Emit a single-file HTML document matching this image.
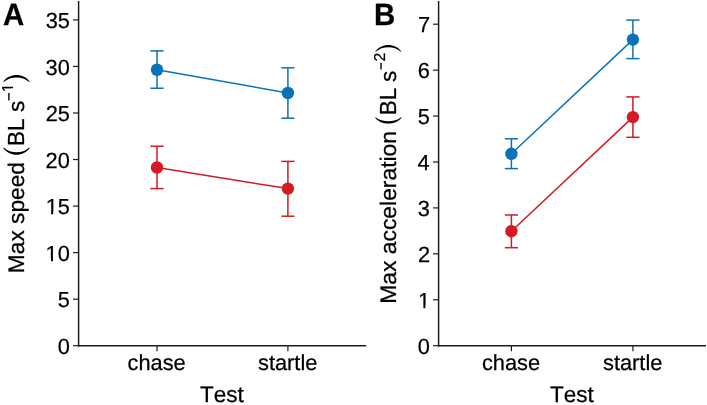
<!DOCTYPE html>
<html><head><meta charset="utf-8"><style>
html,body{margin:0;padding:0;background:#fff;}
body{width:707px;height:405px;overflow:hidden;}
svg{display:block;will-change:transform;}
text{font-family:"Liberation Sans", sans-serif;fill:#000;font-kerning:none;text-rendering:geometricPrecision;stroke:#000;stroke-width:0.25px;}
</style></head><body>
<svg width="707" height="405" viewBox="0 0 707 405">
<defs><clipPath id="c1_21_8" clipPathUnits="userSpaceOnUse"><rect x="-2" y="-26.160" width="65.400" height="23.781"/><rect x="5.432" y="-2.629" width="2.027" height="3.629"/><rect x="11.824" y="-26.160" width="65.400" height="34.880"/></clipPath><clipPath id="c1_15_8" clipPathUnits="userSpaceOnUse"><rect x="-2" y="-18.960" width="47.400" height="17.030"/><rect x="3.923" y="-2.180" width="1.496" height="3.180"/><rect x="8.487" y="-18.960" width="47.400" height="25.280"/></clipPath></defs>
<line x1="78.6" y1="1.0" x2="78.6" y2="346.45" stroke="#1e1e1e" stroke-width="1.5"/>
<line x1="77.85" y1="345.7" x2="366.2" y2="345.7" stroke="#1e1e1e" stroke-width="1.5"/>
<line x1="73.0" y1="345.70" x2="78.6" y2="345.70" stroke="#1e1e1e" stroke-width="1.2"/>
<g transform="translate(57.727,353.800)"><text font-size="21.8">0</text></g>
<line x1="73.0" y1="299.16" x2="78.6" y2="299.16" stroke="#1e1e1e" stroke-width="1.2"/>
<g transform="translate(57.791,307.257)"><text font-size="21.8">5</text></g>
<line x1="73.0" y1="252.61" x2="78.6" y2="252.61" stroke="#1e1e1e" stroke-width="1.2"/>
<g transform="translate(45.603,260.714)"><text font-size="21.8" clip-path="url(#c1_21_8)">10</text></g>
<line x1="73.0" y1="206.07" x2="78.6" y2="206.07" stroke="#1e1e1e" stroke-width="1.2"/>
<g transform="translate(45.667,214.171)"><text font-size="21.8" clip-path="url(#c1_21_8)">15</text></g>
<line x1="73.0" y1="159.53" x2="78.6" y2="159.53" stroke="#1e1e1e" stroke-width="1.2"/>
<g transform="translate(45.603,167.629)"><text font-size="21.8">20</text></g>
<line x1="73.0" y1="112.99" x2="78.6" y2="112.99" stroke="#1e1e1e" stroke-width="1.2"/>
<g transform="translate(45.667,121.086)"><text font-size="21.8">25</text></g>
<line x1="73.0" y1="66.44" x2="78.6" y2="66.44" stroke="#1e1e1e" stroke-width="1.2"/>
<g transform="translate(45.603,74.543)"><text font-size="21.8">30</text></g>
<line x1="73.0" y1="19.90" x2="78.6" y2="19.90" stroke="#1e1e1e" stroke-width="1.2"/>
<g transform="translate(45.667,28.000)"><text font-size="21.8">35</text></g>
<line x1="157.0" y1="345.7" x2="157.0" y2="351.3" stroke="#1e1e1e" stroke-width="1.2"/>
<g transform="translate(127.535,369.600)"><text font-size="21.8">chase</text></g>
<line x1="287.9" y1="345.7" x2="287.9" y2="351.3" stroke="#1e1e1e" stroke-width="1.2"/>
<g transform="translate(257.999,369.600)"><text font-size="21.8">startle</text></g>
<g transform="translate(200.050,402.200)"><text font-size="22.5">Test</text></g>
<line x1="438.6" y1="1.0" x2="438.6" y2="346.45" stroke="#1e1e1e" stroke-width="1.5"/>
<line x1="437.85" y1="345.7" x2="706.0" y2="345.7" stroke="#1e1e1e" stroke-width="1.5"/>
<line x1="433.0" y1="345.70" x2="438.6" y2="345.70" stroke="#1e1e1e" stroke-width="1.2"/>
<g transform="translate(417.727,353.800)"><text font-size="21.8">0</text></g>
<line x1="433.0" y1="299.77" x2="438.6" y2="299.77" stroke="#1e1e1e" stroke-width="1.2"/>
<g transform="translate(417.940,307.871)"><text font-size="21.8" clip-path="url(#c1_21_8)">1</text></g>
<line x1="433.0" y1="253.84" x2="438.6" y2="253.84" stroke="#1e1e1e" stroke-width="1.2"/>
<g transform="translate(417.972,261.943)"><text font-size="21.8">2</text></g>
<line x1="433.0" y1="207.91" x2="438.6" y2="207.91" stroke="#1e1e1e" stroke-width="1.2"/>
<g transform="translate(417.834,216.014)"><text font-size="21.8">3</text></g>
<line x1="433.0" y1="161.99" x2="438.6" y2="161.99" stroke="#1e1e1e" stroke-width="1.2"/>
<g transform="translate(417.515,170.086)"><text font-size="21.8">4</text></g>
<line x1="433.0" y1="116.06" x2="438.6" y2="116.06" stroke="#1e1e1e" stroke-width="1.2"/>
<g transform="translate(417.791,124.157)"><text font-size="21.8">5</text></g>
<line x1="433.0" y1="70.13" x2="438.6" y2="70.13" stroke="#1e1e1e" stroke-width="1.2"/>
<g transform="translate(417.834,78.229)"><text font-size="21.8">6</text></g>
<line x1="433.0" y1="24.20" x2="438.6" y2="24.20" stroke="#1e1e1e" stroke-width="1.2"/>
<g transform="translate(417.972,32.300)"><text font-size="21.8">7</text></g>
<line x1="511.4" y1="345.7" x2="511.4" y2="351.3" stroke="#1e1e1e" stroke-width="1.2"/>
<g transform="translate(481.935,369.600)"><text font-size="21.8">chase</text></g>
<line x1="632.9" y1="345.7" x2="632.9" y2="351.3" stroke="#1e1e1e" stroke-width="1.2"/>
<g transform="translate(602.999,369.600)"><text font-size="21.8">startle</text></g>
<g transform="translate(549.950,402.200)"><text font-size="22.5">Test</text></g>
<line x1="157.0" y1="69.75" x2="287.9" y2="93.00" stroke="#0b72b9" stroke-width="1.5"/>
<line x1="157.0" y1="167.50" x2="287.9" y2="188.60" stroke="#d41a24" stroke-width="1.5"/>
<line x1="511.4" y1="153.80" x2="632.9" y2="39.60" stroke="#0b72b9" stroke-width="1.5"/>
<line x1="511.4" y1="231.20" x2="632.9" y2="117.10" stroke="#d41a24" stroke-width="1.5"/>
<line x1="157.0" y1="50.90" x2="157.0" y2="88.25" stroke="#0b72b9" stroke-width="1.5"/>
<line x1="150.4" y1="50.90" x2="163.6" y2="50.90" stroke="#0b72b9" stroke-width="1.5"/>
<line x1="150.4" y1="88.25" x2="163.6" y2="88.25" stroke="#0b72b9" stroke-width="1.5"/>
<circle cx="157.0" cy="69.75" r="6.2" fill="#0b72b9"/>
<line x1="287.9" y1="67.80" x2="287.9" y2="118.20" stroke="#0b72b9" stroke-width="1.5"/>
<line x1="281.29999999999995" y1="67.80" x2="294.5" y2="67.80" stroke="#0b72b9" stroke-width="1.5"/>
<line x1="281.29999999999995" y1="118.20" x2="294.5" y2="118.20" stroke="#0b72b9" stroke-width="1.5"/>
<circle cx="287.9" cy="93.00" r="6.2" fill="#0b72b9"/>
<line x1="157.0" y1="146.20" x2="157.0" y2="188.60" stroke="#d41a24" stroke-width="1.5"/>
<line x1="150.4" y1="146.20" x2="163.6" y2="146.20" stroke="#d41a24" stroke-width="1.5"/>
<line x1="150.4" y1="188.60" x2="163.6" y2="188.60" stroke="#d41a24" stroke-width="1.5"/>
<circle cx="157.0" cy="167.50" r="6.2" fill="#d41a24"/>
<line x1="287.9" y1="161.40" x2="287.9" y2="216.20" stroke="#d41a24" stroke-width="1.5"/>
<line x1="281.29999999999995" y1="161.40" x2="294.5" y2="161.40" stroke="#d41a24" stroke-width="1.5"/>
<line x1="281.29999999999995" y1="216.20" x2="294.5" y2="216.20" stroke="#d41a24" stroke-width="1.5"/>
<circle cx="287.9" cy="188.60" r="6.2" fill="#d41a24"/>
<line x1="511.4" y1="138.80" x2="511.4" y2="168.60" stroke="#0b72b9" stroke-width="1.5"/>
<line x1="504.79999999999995" y1="138.80" x2="518.0" y2="138.80" stroke="#0b72b9" stroke-width="1.5"/>
<line x1="504.79999999999995" y1="168.60" x2="518.0" y2="168.60" stroke="#0b72b9" stroke-width="1.5"/>
<circle cx="511.4" cy="153.80" r="6.2" fill="#0b72b9"/>
<line x1="632.9" y1="20.10" x2="632.9" y2="58.60" stroke="#0b72b9" stroke-width="1.5"/>
<line x1="626.3" y1="20.10" x2="639.5" y2="20.10" stroke="#0b72b9" stroke-width="1.5"/>
<line x1="626.3" y1="58.60" x2="639.5" y2="58.60" stroke="#0b72b9" stroke-width="1.5"/>
<circle cx="632.9" cy="39.60" r="6.2" fill="#0b72b9"/>
<line x1="511.4" y1="215.00" x2="511.4" y2="247.70" stroke="#d41a24" stroke-width="1.5"/>
<line x1="504.79999999999995" y1="215.00" x2="518.0" y2="215.00" stroke="#d41a24" stroke-width="1.5"/>
<line x1="504.79999999999995" y1="247.70" x2="518.0" y2="247.70" stroke="#d41a24" stroke-width="1.5"/>
<circle cx="511.4" cy="231.20" r="6.2" fill="#d41a24"/>
<line x1="632.9" y1="96.90" x2="632.9" y2="137.30" stroke="#d41a24" stroke-width="1.5"/>
<line x1="626.3" y1="96.90" x2="639.5" y2="96.90" stroke="#d41a24" stroke-width="1.5"/>
<line x1="626.3" y1="137.30" x2="639.5" y2="137.30" stroke="#d41a24" stroke-width="1.5"/>
<circle cx="632.9" cy="117.10" r="6.2" fill="#d41a24"/>
<g transform="translate(3.068,24.550)"><text transform="scale(1,1.05)" font-size="29.4" font-weight="bold">A</text></g>
<g transform="translate(374.033,24.550)"><text transform="scale(1,1.05)" font-size="29.4" font-weight="bold">B</text></g>
<g transform="translate(24.000,273.162) rotate(-90) scale(1.009,1)"><text font-size="22.5">Max speed</text></g>
<path d="M3.10,147.80 C9.53,157.13 23.47,157.13 29.90,147.80 L28.80,147.80 C22.90,153.87 10.10,153.87 4.20,147.80 Z" fill="#000"/>
<g transform="translate(24.000,145.946) rotate(-90)"><text transform="scale(1,1.035)" font-size="22.5">BL</text></g>
<g transform="translate(24.000,111.926) rotate(-90)"><text font-size="22.5">s</text></g>
<line x1="8.90" y1="100.50" x2="8.90" y2="93.00" stroke="#000" stroke-width="1.4"/>
<g transform="translate(12.700,92.204) rotate(-90)"><text font-size="15.8" clip-path="url(#c1_15_8)">1</text></g>
<path d="M3.10,81.80 C9.53,72.87 23.47,72.87 29.90,81.80 L28.80,81.80 C22.90,76.13 10.10,76.13 4.20,81.80 Z" fill="#000"/>
<g transform="translate(396.000,303.775) rotate(-90) scale(1.016,1)"><text font-size="22.5">Max acceleration</text></g>
<path d="M374.90,117.40 C381.36,125.67 395.34,125.67 401.80,117.40 L400.70,117.40 C394.77,122.40 381.93,122.40 376.00,117.40 Z" fill="#000"/>
<g transform="translate(396.000,115.146) rotate(-90)"><text transform="scale(1,1.035)" font-size="22.5">BL</text></g>
<g transform="translate(396.000,82.026) rotate(-90)"><text font-size="22.5">s</text></g>
<line x1="381.00" y1="69.50" x2="381.00" y2="62.80" stroke="#000" stroke-width="1.4"/>
<g transform="translate(384.900,61.395) rotate(-90)"><text font-size="15.8">2</text></g>
<path d="M375.10,51.60 C381.46,42.67 395.24,42.67 401.60,51.60 L400.50,51.60 C394.67,45.93 382.03,45.93 376.20,51.60 Z" fill="#000"/>
</svg>
</body></html>
